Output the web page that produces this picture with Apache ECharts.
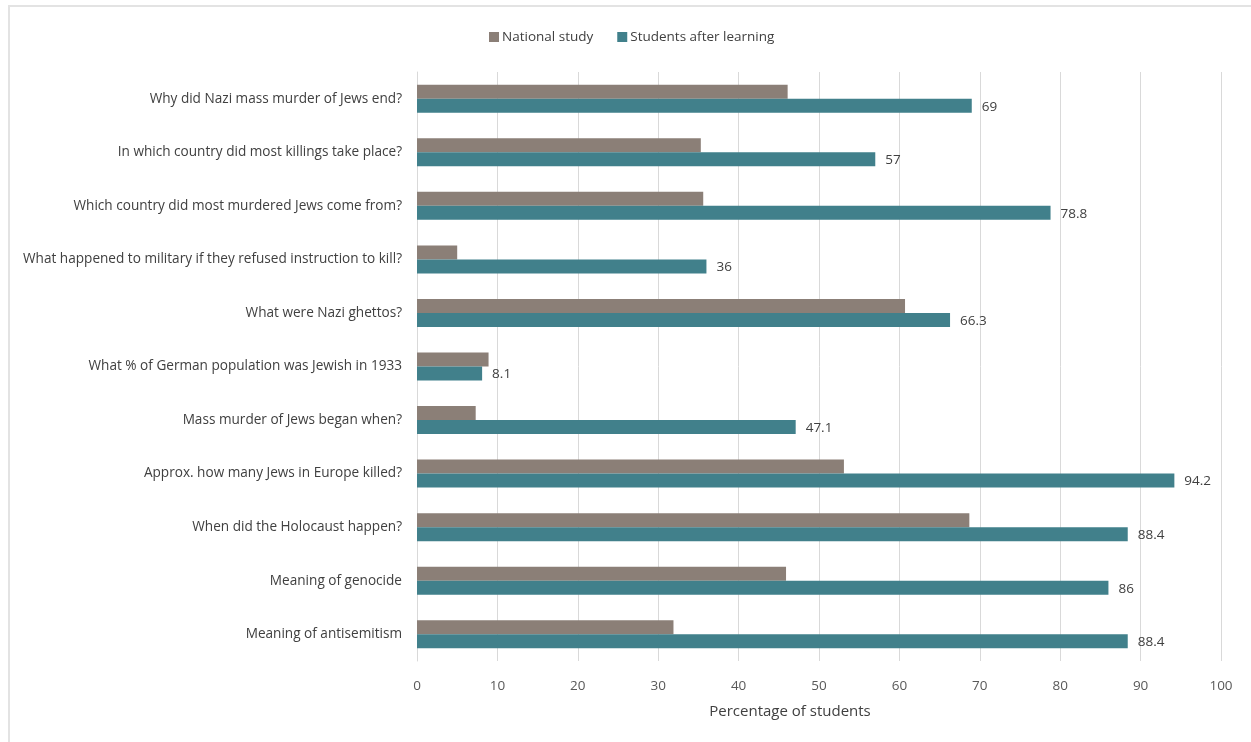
<!DOCTYPE html>
<html><head><meta charset="utf-8">
<script src="https://cdn.jsdelivr.net/npm/echarts@6/dist/echarts.min.js"></script>
<style>html,body{margin:0;padding:0;background:#fff}#c{width:1251px;height:742px}</style>
</head><body><div id="c"></div>
<script>
const categories = [
  "Why did Nazi mass murder of Jews end?",
  "In which country did most killings take place?",
  "Which country did most murdered Jews come from?",
  "What happened to military if they refused instruction to kill?",
  "What were Nazi ghettos?",
  "What % of German population was Jewish in 1933",
  "Mass murder of Jews began when?",
  "Approx. how many Jews in Europe killed?",
  "When did the Holocaust happen?",
  "Meaning of genocide",
  "Meaning of antisemitism"
];
const nationalStudy = [46.1, 35.3, 35.6, 5.0, 60.7, 8.9, 7.3, 53.1, 68.7, 45.9, 31.9];
const studentsAfter = [69, 57, 78.8, 36, 66.3, 8.1, 47.1, 94.2, 88.4, 86, 88.4];
const xTicks = [0, 10, 20, 30, 40, 50, 60, 70, 80, 90, 100];
const seriesNames = ["National study", "Students after learning"];

const FONT = "Open Sans";
const chart = echarts.init(document.getElementById('c'), null, {renderer: 'canvas'});
chart.setOption({
  backgroundColor: '#ffffff',
  animation: false,
  textStyle: {fontFamily: FONT},
  graphic: [{
    type: 'rect', silent: true,
    shape: {x: 9, y: 6, width: 1300, height: 800},
    style: {fill: 'none', stroke: '#e3e3e3', lineWidth: 2}
  }],
  legend: {
    top: 25, left: 484,
    itemWidth: 10, itemHeight: 10, itemGap: 24,
    icon: 'rect',
    textStyle: {fontFamily: FONT, fontSize: 13.5, color: '#404040', padding: [0,0,0,-2]},
    data: seriesNames
  },
  grid: {left: 417, right: 30, top: 72, bottom: 81, containLabel: false},
  xAxis: {
    type: 'value', min: 0, max: 100, interval: 10,
    name: 'Percentage of students', nameLocation: 'middle', nameGap: 43,
    nameTextStyle: {fontFamily: FONT, fontSize: 15, color: '#404040', padding: [0, 58, 0, 0]},
    axisLine: {show: false}, axisTick: {show: false},
    axisLabel: {margin: 18, fontFamily: FONT, fontSize: 13.5, color: '#595959',
      formatter: v => xTicks.includes(v) ? String(v) : ''},
    splitLine: {show: true, lineStyle: {color: '#d9d9d9', width: 1}}
  },
  yAxis: {
    type: 'category', data: categories, inverse: true,
    axisLine: {show: true, lineStyle: {color: '#d9d9d9'}}, axisTick: {show: false},
    axisLabel: {margin: 15, fontFamily: FONT, fontSize: 13.6, color: '#404040'}
  },
  series: [
    {name: seriesNames[0], type: 'bar', data: nationalStudy, barWidth: 14, barGap: '0%',
     itemStyle: {color: '#8b7f77'}},
    {name: seriesNames[1], type: 'bar', data: studentsAfter, barWidth: 14, barGap: '0%',
     itemStyle: {color: '#41808b'},
     label: {show: true, position: 'right', distance: 10, offset: [0, 1], fontFamily: FONT, fontSize: 13.5, color: '#404040'}}
  ]
});
</script></body></html>
